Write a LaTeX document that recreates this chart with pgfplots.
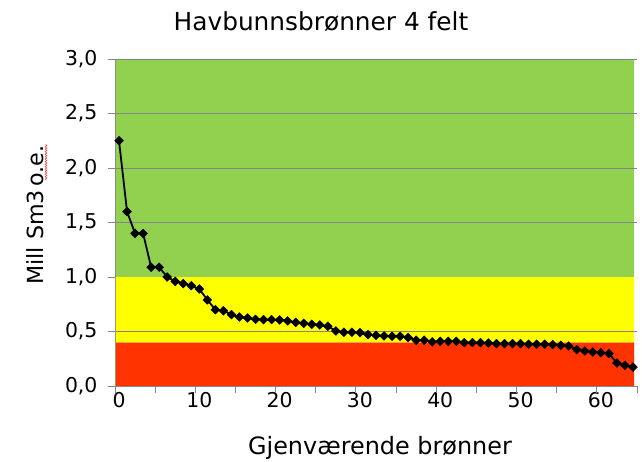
\documentclass[border=0pt]{standalone}
\usepackage{pgfplots}
\pgfplotsset{compat=1.18}
\usepackage{fontspec}
\setmainfont{DejaVu Sans}
\usetikzlibrary{decorations.pathmorphing}
\definecolor{bandgreen}{RGB}{146,208,80}
\definecolor{bandyellow}{RGB}{255,255,0}
\definecolor{bandred}{RGB}{255,51,0}
\definecolor{gridgray}{RGB}{134,134,134}
\begin{document}
\begin{tikzpicture}
\begin{axis}[
  at={(115bp,76bp)}, anchor=south west,
  scale only axis, width=522bp, height=327bp,
  xmin=-0.5, xmax=64.5, ymin=0, ymax=3,
  clip=false, unbounded coords=jump,
  axis x line*=bottom, axis y line*=left,
  axis line style={-, draw=gridgray, line width=0.9bp},
  xtick align=outside, ytick align=outside,
  major tick length=7bp,
  xtick={-0.5,4.5,9.5,14.5,19.5,24.5,29.5,34.5,39.5,44.5,49.5,54.5,59.5,64.5},
  xticklabels={},
  extra x ticks={0,10,20,30,40,50,60},
  extra x tick labels={0,10,20,30,40,50,60},
  extra x tick style={major tick length=0pt, xticklabel style={anchor=base, yshift=-22bp}},
  every tick/.append style={draw=gridgray, line width=0.9bp},
  ytick={0,0.5,1,1.5,2,2.5,3},
  /pgf/number format/.cd, use comma, fixed, fixed zerofill, precision=1, assume math mode=true,
  /pgfplots/.cd,
  tick label style={font=\fontsize{20.5}{24}\selectfont, text=black},
  every y tick label/.append style={anchor=east, xshift=-7bp},
]
\addplot[fill=bandred, draw=none] coordinates {(-0.38,0) (64.13,0) (64.13,0.4) (-0.38,0.4)} \closedcycle;
\addplot[fill=bandyellow, draw=none] coordinates {(-0.38,0.4) (64.13,0.4) (64.13,1.0) (-0.38,1.0)} \closedcycle;
\addplot[fill=bandgreen, draw=none] coordinates {(-0.38,1.0) (64.13,1.0) (64.13,3.0) (-0.38,3.0)} \closedcycle;
% horizontal gridlines
\addplot[gridgray, line width=0.9bp, forget plot] coordinates {(-0.5,0.5) (64.5,0.5)};
\addplot[gridgray, line width=0.9bp, forget plot] coordinates {(-0.5,1.5) (64.5,1.5)};
\addplot[gridgray, line width=0.9bp, forget plot] coordinates {(-0.5,2.0) (64.5,2.0)};
\addplot[gridgray, line width=0.9bp, forget plot] coordinates {(-0.5,2.5) (64.5,2.5)};
\addplot[gridgray, line width=0.9bp, forget plot] coordinates {(-0.5,3.0) (64.5,3.0)};
% tick marks (outside)
\addplot[gridgray, line width=0.9bp, forget plot] coordinates {
(-0.5,0) (-0.5,-0.064) (-0.5,nan) (4.5,0) (4.5,-0.064) (4.5,nan) (9.5,0) (9.5,-0.064) (9.5,nan)
(14.5,0) (14.5,-0.064) (14.5,nan) (19.5,0) (19.5,-0.064) (19.5,nan) (24.5,0) (24.5,-0.064) (24.5,nan)
(29.5,0) (29.5,-0.064) (29.5,nan) (34.5,0) (34.5,-0.064) (34.5,nan) (39.5,0) (39.5,-0.064) (39.5,nan)
(44.5,0) (44.5,-0.064) (44.5,nan) (49.5,0) (49.5,-0.064) (49.5,nan) (54.5,0) (54.5,-0.064) (54.5,nan)
(59.5,0) (59.5,-0.064) (59.5,nan) (64.5,0) (64.5,-0.064)
};
\addplot[gridgray, line width=0.9bp, forget plot] coordinates {
(-0.5,0) (-1.37,0) (nan,0) (-0.5,0.5) (-1.37,0.5) (nan,0.5) (-0.5,1) (-1.37,1) (nan,1)
(-0.5,1.5) (-1.37,1.5) (nan,1.5) (-0.5,2) (-1.37,2) (nan,2) (-0.5,2.5) (-1.37,2.5) (nan,2.5)
(-0.5,3) (-1.37,3)
};
\addplot[black, line width=1.8bp, mark=square*, mark size=3.1bp, mark options={rotate=45, fill=black, line width=0.5bp}] coordinates {
(0,2.25) (1,1.60) (2,1.40) (3,1.40) (4,1.09) (5,1.09) (6,1.00) (7,0.96) (8,0.94) (9,0.92)
(10,0.89) (11,0.79) (12,0.70) (13,0.69) (14,0.655) (15,0.633) (16,0.624) (17,0.612) (18,0.609) (19,0.609)
(20,0.606) (21,0.597) (22,0.584) (23,0.575) (24,0.566) (25,0.56) (26,0.548) (27,0.505) (28,0.493) (29,0.493)
(30,0.49) (31,0.472) (32,0.465) (33,0.459) (34,0.456) (35,0.456) (36,0.444) (37,0.42) (38,0.42) (39,0.404)
(40,0.41) (41,0.41) (42,0.41) (43,0.398) (44,0.398) (45,0.398) (46,0.394) (47,0.389) (48,0.389) (49,0.389)
(50,0.389) (51,0.383) (52,0.383) (53,0.383) (54,0.38) (55,0.373) (56,0.367) (57,0.334) (58,0.321) (59,0.312)
(60,0.306) (61,0.297) (62,0.211) (63,0.19) (64,0.174)
};
\end{axis}
\begin{scope}[x=1bp,y=1bp]
\node[anchor=base, font=\fontsize{24.9}{29}\selectfont] at (321,431) {Havbunnsbrønner 4 felt};
\node[anchor=base, font=\fontsize{24}{28}\selectfont] at (380,7) {Gjenværende brønner};
\node[anchor=base, rotate=90, font=\fontsize{22.3}{26}\selectfont] at (43,247) {Mill Sm3\,o.e.};
\draw[red!80!white, line width=0.6bp, decorate, decoration={snake, amplitude=0.7bp, segment length=2.5bp}] (46,282) -- (46,318);
\pgfresetboundingbox
\useasboundingbox (0,0) rectangle (642,462);
\end{scope}
\end{tikzpicture}
\end{document}
